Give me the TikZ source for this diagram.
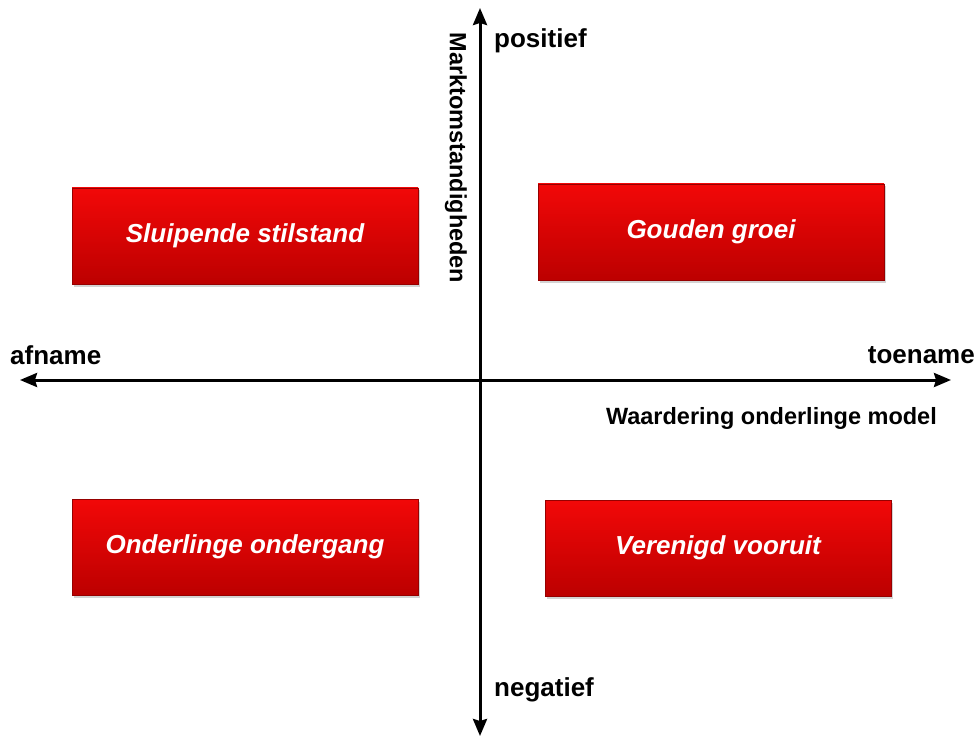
\documentclass[tikz,border=0pt]{standalone}
\usepackage{fontspec}
\setmainfont{Liberation Sans}
\usetikzlibrary{arrows.meta}
\usetikzlibrary{shadows}
\definecolor{vaktop}{RGB}{242,8,8}
\definecolor{vakbodem}{RGB}{188,0,0}

\tikzset{
  vak/.style={minimum width=346pt, minimum height=96pt, inner sep=0pt,
    top color=vaktop, bottom color=vakbodem, draw=vakbodem!80!black, line width=0.4pt,
    drop shadow={opacity=0.35, shadow xshift=1.5pt, shadow yshift=-2.5pt},
    text=white, font=\fontsize{26}{28}\selectfont\bfseries\itshape},
  as/.style={line width=3pt, -{Stealth[length=17pt, width=14pt, inset=2pt]}},
  lbl/.style={inner sep=0pt, font=\fontsize{26}{28}\selectfont\bfseries},
  titel/.style={inner sep=0pt, font=\fontsize{23.5}{26}\selectfont\bfseries}
}

\begin{document}
\begin{tikzpicture}[x=1pt, y=-1pt]
    % Kader
    \useasboundingbox (0,0) rectangle (979,738);
    % Assen
    \coordinate (midden) at (480,380);
    \coordinate (boven) at (480,8);
    \coordinate (onder) at (480,736);
    \coordinate (links) at (20,380);
    \coordinate (rechts) at (951,380);
    \draw[as] (midden) -- (boven);
    \draw[as] (midden) -- (onder);
    \draw[as] (midden) -- (links);
    \draw[as] (midden) -- (rechts);
    % Aslabels
    \node[lbl, anchor=west] (pos) at (494,41) {positief};
    \node[lbl, anchor=west] (neg) at (494,690) {negatief};
    \node[lbl, anchor=west] (af) at (10,355) {afname};
    \node[lbl, anchor=east] (toe) at (975,355) {toename};
    \node[titel, anchor=east] (waard) at (937,418) {Waardering onderlinge model};
    \node[titel, rotate=-90] (markt) at (456,158) {Marktomstandigheden};
    % Kwadranten
    \node[vak] (sluip) at (245,236) {Sluipende stilstand};
    \node[vak] (goud) at (711,232) {Gouden groei};
    \node[vak] (onderg) at (245,547) {Onderlinge ondergang};
    \node[vak] (veren) at (718,548) {Verenigd vooruit};
\end{tikzpicture}
\end{document}
